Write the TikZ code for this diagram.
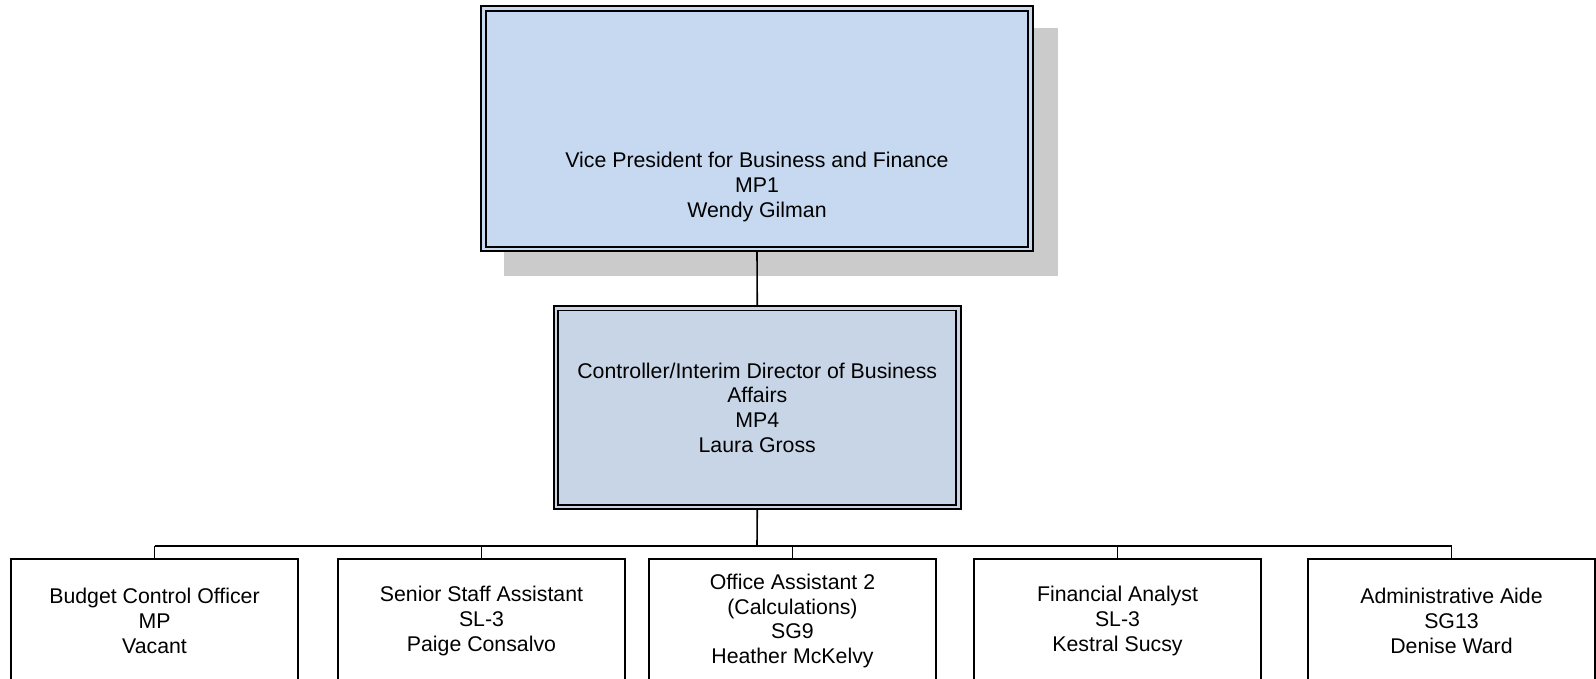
\documentclass[tikz,border=0pt]{standalone}
\usepackage{fontspec}
\setmainfont{Liberation Sans}
\usetikzlibrary{backgrounds}
\definecolor{vpfill}{HTML}{C6D9F0}
\definecolor{ctrlfill}{HTML}{C8D5E6}
\definecolor{shadowgray}{HTML}{CBCBCB}
\begin{document}
\begin{tikzpicture}[x=1pt,y=-1pt,
  lbl/.style={font=\fontsize{21.3}{24.8}\selectfont, align=center, inner sep=0pt},
  dbox/.style={lbl, rectangle, draw=black, line width=1.8pt, double distance=2.7pt, outer sep=3.15pt},
  staff/.style={lbl, rectangle, draw=black, line width=1.8pt, fill=white, minimum width=287pt, minimum height=124pt, outer sep=0.9pt},
  link/.style={draw=black, line width=1.6pt},
  drop/.style={draw=black, line width=1.1pt}]
\useasboundingbox (0,0) rectangle (1596,678);

\node[dbox, fill=vpfill, double=vpfill, minimum width=547pt, minimum height=240.5pt] (vp) at (757,128.75) {};
\node[lbl] (vptext) at (757,186.7) {Vice President for Business and Finance\\MP1\\Wendy Gilman};
\node[dbox, fill=ctrlfill, double=ctrlfill, minimum width=402.5pt, minimum height=198.75pt] (ctrl) at (757.25,407.6)
  {Controller/Interim Director of Business\\Affairs\\MP4\\Laura Gross};

\begin{scope}[on background layer]
  \fill[shadowgray] ([shift={(23.5,23)}]vp.north west) rectangle ([shift={(24.5,24)}]vp.south east);
\end{scope}

\node[staff] (b1) at (154.5,621) {Budget Control Officer\\MP\\Vacant};
\node[staff] (b2) at (481.5,621) {Senior Staff Assistant\\SL-3\\Paige Consalvo};
\node[staff] (b3) at (792.5,621) {Office Assistant 2\\(Calculations)\\SG9\\Heather McKelvy};
\node[staff] (b4) at (1117.5,621) {Financial Analyst\\SL-3\\Kestral Sucsy};
\node[staff] (b5) at (1451.5,621) {Administrative Aide\\SG13\\Denise Ward};

\coordinate (bus) at (757,546);
\draw[link] (vp.south) -- (ctrl.north);
\draw[link] (ctrl.south) -- (bus);
\draw[link] (bus -| b1.north) -- (bus -| b5.north);
\foreach \b in {b1,b2,b3,b4,b5} \draw[drop] (bus -| \b.north) -- (\b.north);
\end{tikzpicture}
\end{document}
